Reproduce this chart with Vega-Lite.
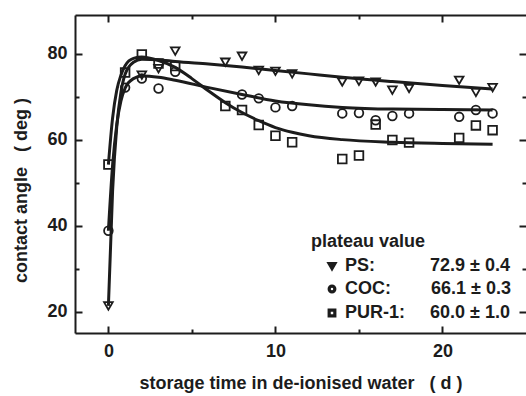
{
  "$schema": "https://vega.github.io/schema/vega-lite/v6.json",
  "width": 451,
  "height": 318,
  "autosize": {"type": "none"},
  "padding": {"left": 75, "top": 15, "right": 0, "bottom": 63},
  "background": "white",
  "config": {
    "view": {"stroke": null},
    "font": "Liberation Sans",
    "axis": {
      "domainColor": "#1c1c1c",
      "domainWidth": 2,
      "tickColor": "#1c1c1c",
      "tickWidth": 2,
      "grid": false,
      "labelFont": "Liberation Sans",
      "labelFontSize": 18,
      "labelFontWeight": "bold",
      "labelColor": "#1c1c1c",
      "titleFont": "Liberation Sans",
      "titleFontSize": 18,
      "titleFontWeight": "bold",
      "titleColor": "#1c1c1c"
    }
  },
  "datasets": {
    "measured": [
      {"material": "PS", "day": 0, "angle": 21.3},
      {"material": "PS", "day": 2, "angle": 75.0},
      {"material": "PS", "day": 3, "angle": 76.5},
      {"material": "PS", "day": 4, "angle": 80.6},
      {"material": "PS", "day": 7, "angle": 78.0},
      {"material": "PS", "day": 8, "angle": 79.4},
      {"material": "PS", "day": 9, "angle": 76.1},
      {"material": "PS", "day": 10, "angle": 75.9},
      {"material": "PS", "day": 11, "angle": 75.3},
      {"material": "PS", "day": 14, "angle": 73.4},
      {"material": "PS", "day": 15, "angle": 73.6},
      {"material": "PS", "day": 16, "angle": 73.4},
      {"material": "PS", "day": 17, "angle": 71.5},
      {"material": "PS", "day": 18, "angle": 71.9},
      {"material": "PS", "day": 21, "angle": 73.8},
      {"material": "PS", "day": 22, "angle": 71.0},
      {"material": "PS", "day": 23, "angle": 72.1},
      {"material": "COC", "day": 0, "angle": 38.8},
      {"material": "COC", "day": 1, "angle": 72.1},
      {"material": "COC", "day": 2, "angle": 74.2},
      {"material": "COC", "day": 3, "angle": 71.9},
      {"material": "COC", "day": 4, "angle": 75.8},
      {"material": "COC", "day": 8, "angle": 70.5},
      {"material": "COC", "day": 9, "angle": 69.6},
      {"material": "COC", "day": 10, "angle": 67.5},
      {"material": "COC", "day": 11, "angle": 67.8},
      {"material": "COC", "day": 14, "angle": 66.1},
      {"material": "COC", "day": 15, "angle": 66.2},
      {"material": "COC", "day": 16, "angle": 64.5},
      {"material": "COC", "day": 17, "angle": 65.5},
      {"material": "COC", "day": 18, "angle": 66.1},
      {"material": "COC", "day": 21, "angle": 65.3},
      {"material": "COC", "day": 22, "angle": 66.9},
      {"material": "COC", "day": 23, "angle": 66.1},
      {"material": "PUR-1", "day": 0, "angle": 54.2},
      {"material": "PUR-1", "day": 1, "angle": 75.6},
      {"material": "PUR-1", "day": 2, "angle": 79.8},
      {"material": "PUR-1", "day": 3, "angle": 77.7},
      {"material": "PUR-1", "day": 4, "angle": 77.1},
      {"material": "PUR-1", "day": 7, "angle": 67.8},
      {"material": "PUR-1", "day": 8, "angle": 66.9},
      {"material": "PUR-1", "day": 9, "angle": 63.4},
      {"material": "PUR-1", "day": 10, "angle": 60.9},
      {"material": "PUR-1", "day": 11, "angle": 59.4},
      {"material": "PUR-1", "day": 14, "angle": 55.5},
      {"material": "PUR-1", "day": 15, "angle": 56.3},
      {"material": "PUR-1", "day": 16, "angle": 63.5},
      {"material": "PUR-1", "day": 17, "angle": 59.9},
      {"material": "PUR-1", "day": 18, "angle": 59.3},
      {"material": "PUR-1", "day": 21, "angle": 60.4},
      {"material": "PUR-1", "day": 22, "angle": 63.3},
      {"material": "PUR-1", "day": 23, "angle": 62.2}
    ],
    "fit": [
      {"material": "PS", "day": 0, "angle": 21.3},
      {"material": "PS", "day": 0.25, "angle": 48.0},
      {"material": "PS", "day": 0.5, "angle": 63.0},
      {"material": "PS", "day": 0.75, "angle": 71.0},
      {"material": "PS", "day": 1, "angle": 75.2},
      {"material": "PS", "day": 1.5, "angle": 78.0},
      {"material": "PS", "day": 2, "angle": 78.7},
      {"material": "PS", "day": 3, "angle": 78.6},
      {"material": "PS", "day": 4, "angle": 78.2},
      {"material": "PS", "day": 6, "angle": 77.6},
      {"material": "PS", "day": 8, "angle": 76.9},
      {"material": "PS", "day": 10, "angle": 76.1},
      {"material": "PS", "day": 12, "angle": 75.3},
      {"material": "PS", "day": 14, "angle": 74.5},
      {"material": "PS", "day": 17, "angle": 73.5},
      {"material": "PS", "day": 20, "angle": 72.6},
      {"material": "PS", "day": 23, "angle": 71.8},
      {"material": "COC", "day": 0, "angle": 38.8},
      {"material": "COC", "day": 0.25, "angle": 54.0},
      {"material": "COC", "day": 0.5, "angle": 63.5},
      {"material": "COC", "day": 0.75, "angle": 69.0},
      {"material": "COC", "day": 1, "angle": 72.0},
      {"material": "COC", "day": 1.5, "angle": 74.2},
      {"material": "COC", "day": 2, "angle": 74.8},
      {"material": "COC", "day": 3, "angle": 74.5},
      {"material": "COC", "day": 4, "angle": 73.8},
      {"material": "COC", "day": 6, "angle": 72.1},
      {"material": "COC", "day": 8, "angle": 70.5},
      {"material": "COC", "day": 10, "angle": 69.0},
      {"material": "COC", "day": 12, "angle": 68.1},
      {"material": "COC", "day": 14, "angle": 67.5},
      {"material": "COC", "day": 17, "angle": 67.1},
      {"material": "COC", "day": 20, "angle": 67.0},
      {"material": "COC", "day": 23, "angle": 66.9},
      {"material": "PUR-1", "day": 0, "angle": 54.2},
      {"material": "PUR-1", "day": 0.25, "angle": 65.0},
      {"material": "PUR-1", "day": 0.5, "angle": 71.5},
      {"material": "PUR-1", "day": 0.75, "angle": 75.0},
      {"material": "PUR-1", "day": 1, "angle": 77.2},
      {"material": "PUR-1", "day": 1.5, "angle": 78.9},
      {"material": "PUR-1", "day": 2, "angle": 79.2},
      {"material": "PUR-1", "day": 3, "angle": 78.4},
      {"material": "PUR-1", "day": 4, "angle": 76.8},
      {"material": "PUR-1", "day": 5, "angle": 74.2},
      {"material": "PUR-1", "day": 6, "angle": 71.3},
      {"material": "PUR-1", "day": 7, "angle": 68.6},
      {"material": "PUR-1", "day": 8, "angle": 66.3},
      {"material": "PUR-1", "day": 9, "angle": 64.4},
      {"material": "PUR-1", "day": 10, "angle": 62.8},
      {"material": "PUR-1", "day": 11, "angle": 61.7},
      {"material": "PUR-1", "day": 12, "angle": 60.9},
      {"material": "PUR-1", "day": 14, "angle": 60.0},
      {"material": "PUR-1", "day": 17, "angle": 59.4},
      {"material": "PUR-1", "day": 20, "angle": 59.1},
      {"material": "PUR-1", "day": 23, "angle": 58.9}
    ]
  },
  "layer": [
    {
      "data": {"name": "fit"},
      "mark": {"type": "line", "interpolate": "monotone", "strokeWidth": 3, "color": "#1c1c1c"},
      "encoding": {
        "x": {
          "field": "day",
          "type": "quantitative",
          "scale": {"domain": [-2, 25], "nice": false, "zero": false},
          "axis": {
            "orient": "bottom",
            "values": [0, 5, 10, 15, 20],
            "labelExpr": "datum.value % 10 === 0 ? datum.label : ''",
            "tickSize": {"condition": {"test": "datum.value % 10 === 0", "value": -7}, "value": -4},
            "labelPadding": 16,
            "title": "storage time in de-ionised water\u00a0\u00a0\u00a0(\u00a0d\u00a0)",
            "titlePadding": 14
          }
        },
        "y": {
          "field": "angle",
          "type": "quantitative",
          "scale": {"domain": [15, 89], "nice": false, "zero": false},
          "axis": {
            "orient": "left",
            "values": [20, 30, 40, 50, 60, 70, 80],
            "labelExpr": "datum.value % 20 === 0 ? datum.label : ''",
            "tickSize": {"condition": {"test": "datum.value % 20 === 0", "value": -7}, "value": -4},
            "labelPadding": 15,
            "title": "contact angle\u00a0\u00a0\u00a0(\u00a0deg\u00a0)",
            "titleY": 175,
            "titlePadding": 16
          }
        },
        "detail": {"field": "material", "type": "nominal"}
      }
    },
    {
      "data": {"name": "measured"},
      "mark": {"type": "point", "filled": false, "size": 75, "strokeWidth": 1.8, "color": "#1c1c1c", "opacity": 1},
      "encoding": {
        "x": {
          "field": "day",
          "type": "quantitative",
          "axis": {
            "orient": "top",
            "values": [0, 5, 10, 15, 20],
            "labels": false,
            "title": null,
            "tickSize": {"condition": {"test": "datum.value % 10 === 0", "value": -7}, "value": -4}
          }
        },
        "y": {
          "field": "angle",
          "type": "quantitative",
          "axis": {
            "orient": "right",
            "values": [20, 30, 40, 50, 60, 70, 80],
            "labels": false,
            "domain": false,
            "title": null,
            "tickSize": {"condition": {"test": "datum.value % 20 === 0", "value": -7}, "value": -4}
          }
        },
        "shape": {
          "field": "material",
          "type": "nominal",
          "scale": {"domain": ["PS", "COC", "PUR-1"], "range": ["triangle-down", "circle", "square"]},
          "legend": {
            "title": "plateau value",
            "orient": "none",
            "legendX": 236,
            "legendY": 218,
            "titleFont": "Liberation Sans",
            "titleFontSize": 18,
            "titleFontWeight": "bold",
            "titleColor": "#1c1c1c",
            "titlePadding": 6,
            "labelFont": "Liberation Sans",
            "labelFontSize": 18,
            "labelFontWeight": "bold",
            "labelColor": "#1c1c1c",
            "labelLimit": 300,
            "labelOffset": 4,
            "labelExpr": "datum.label === 'PS' ? 'PS:\u00a0\u00a0\u00a0\u00a0\u00a0\u00a0\u00a0\u00a0\u00a0\u00a0\u00a072.9 ± 0.4' : datum.label === 'COC' ? 'COC:\u00a0\u00a0\u00a0\u00a0\u00a0\u00a0\u00a0\u00a066.1 ± 0.3' : 'PUR-1:\u00a0\u00a0\u00a0\u00a0\u00a060.0 ± 1.0'",
            "symbolSize": 32,
            "symbolStrokeWidth": 3.2,
            "symbolStrokeColor": "#1c1c1c",
            "symbolOffset": 12,
            "rowPadding": 4
          }
        }
      }
    }
  ],
  "resolve": {"axis": {"x": "independent", "y": "independent"}}
}
